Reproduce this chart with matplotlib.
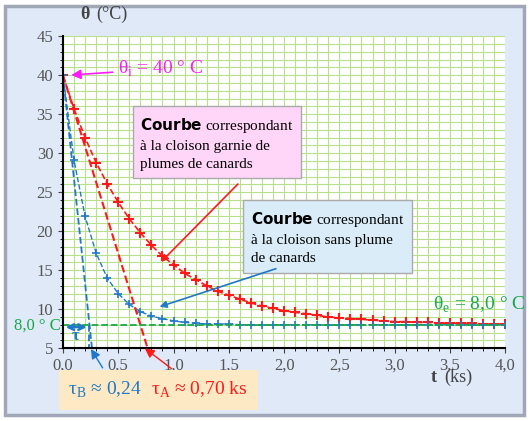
import numpy as np
import matplotlib.pyplot as plt
from matplotlib.patches import FancyBboxPatch

plt.rcParams['font.family'] = ['Liberation Serif', 'DejaVu Serif']

# temps (ks), pas de 0,1
t = [i / 10 for i in range(41)]
theta_A = [40, 35.7, 32.0, 28.8, 26.1, 23.7, 21.6, 19.8, 18.2, 16.8, 15.7, 14.6, 13.8,
           13.0, 12.3, 11.8, 11.3, 10.8, 10.4, 10.1, 9.8, 9.6, 9.4, 9.2, 9.0, 8.9, 8.8,
           8.7, 8.6, 8.5, 8.4, 8.4, 8.3, 8.3, 8.2, 8.2, 8.2, 8.2, 8.1, 8.1, 8.1]
theta_B = [40, 29.1, 21.9, 17.2, 14.0, 12.0, 10.6, 9.7, 9.1, 8.8, 8.5, 8.3, 8.2, 8.1,
           8.1, 8.1] + [8.0] * 25
theta_i, theta_e = 40, 8.0
tau_A, tau_B = 0.70, 0.24

RED, BLUE, GREEN, MAG = "#ff1a1a", "#1f78c8", "#1aa84a", "#ff1aff"

fig = plt.figure(figsize=(5.29, 4.21), dpi=100)
fig.patch.set_facecolor("white")
frame = FancyBboxPatch((0.01, 0.015), 0.98, 0.97, boxstyle="square,pad=0",
                       transform=fig.transFigure, facecolor="#dfe9f8",
                       edgecolor="#a0a8b8", lw=2.5, zorder=-10)
fig.patches.append(frame)
ax = fig.add_axes([0.119, 0.173, 0.836, 0.741])
ax.set_facecolor("white")
ax.set_xlim(0, 4.0); ax.set_ylim(5, 45)
ax.set_xticks(np.arange(0, 4.01, 0.5)); ax.set_yticks(np.arange(5, 46, 5))
ax.set_xticks(np.arange(0, 4.01, 0.1), minor=True); ax.set_yticks(np.arange(5, 46, 1), minor=True)
ax.set_xticklabels([f"{v:.1f}".replace(".", ",") for v in np.arange(0, 4.01, 0.5)])
ax.grid(True, which="both", color="#b8e08a", lw=0.8)
ax.tick_params(labelsize=12, colors="#444444", labelcolor="#555555")
for s in ("top", "right"):
    ax.spines[s].set_visible(False)
for s in ("left", "bottom"):
    ax.spines[s].set_linewidth(1.5)

ax.plot(t, theta_A, ls="--", color=RED, marker="+", ms=7, mew=1.5, lw=1.2)
ax.plot(t, theta_B, ls="--", color=BLUE, marker="+", ms=6, mew=1.2, lw=1.0)
# tangentes
ax.plot([0, tau_A * 35 / 32], [theta_i, 5], ls="--", color=RED, lw=1.5)
ax.plot([0, tau_B * 35 / 32], [theta_i, 5], ls="--", color=BLUE, lw=1.3)
ax.plot([tau_B, tau_B], [theta_e, 5], ls="--", color=BLUE, lw=1.3)
ax.axhline(theta_e, ls="--", color=GREEN, lw=1.3)
ax.annotate("", xy=(tau_B, 7.7), xytext=(0, 7.7),
            arrowprops=dict(arrowstyle="<->", color=BLUE, lw=1.8))
ax.text(0.08, 6.0, "τ", color=BLUE, fontsize=12, fontweight="bold")

ax.text(-0.02, 7.9, "8,0 ° C", color=GREEN, fontsize=12, ha="right", va="center",
        clip_on=False)
ax.text(0.16, 47.2, "θ", fontsize=13, fontweight="bold", color="#444444")
ax.text(0.3, 47.2, "(°C)", fontsize=13, color="#444444")
ax.text(3.33, 0.7, "t", fontsize=13, fontweight="bold", color="#444444")
ax.text(3.45, 0.7, "(ks)", fontsize=13, color="#444444")

ax.annotate("θ$_\\mathregular{i}$ = 40 ° C", xy=(0.05, theta_i), xytext=(0.5, 40.8),
            color=MAG, fontsize=14, va="center",
            arrowprops=dict(arrowstyle="-|>", color=MAG, lw=1.2))
ax.text(3.35, 10.5, "θ$_\\mathregular{e}$ = 8,0 ° C", color=GREEN, fontsize=14,
        va="center")

ax.text(0.7, 31.3, "$\\bf{Courbe}$ correspondant\nà la cloison garnie de\nplumes de canards",
        fontsize=11, va="center", ha="left", linespacing=1.5,
        bbox=dict(boxstyle="square,pad=0.5", fc="#ffd6f8", ec="#aaaaaa"))
ax.annotate("", xy=(0.87, 15.8), xytext=(1.6, 26.3),
            arrowprops=dict(arrowstyle="-|>", color=RED, lw=1.2))
ax.text(1.7, 19.2, "$\\bf{Courbe}$ correspondant\nà la cloison sans plume\nde canards",
        fontsize=11, va="center", ha="left", linespacing=1.5,
        bbox=dict(boxstyle="square,pad=0.5", fc="#d9ecf8", ec="#aaaaaa"))
ax.annotate("", xy=(0.85, 10.2), xytext=(1.95, 15.3),
            arrowprops=dict(arrowstyle="-|>", color=BLUE, lw=1.2))

ax.annotate("τ$_\\mathregular{B}$ ≈ 0,24 ks", xy=(0.24, 5.2), xytext=(0.05, -1.0),
            fontsize=14, color=BLUE, annotation_clip=False,
            bbox=dict(boxstyle="square,pad=0.5", fc="#fde9c4", ec="none"),
            arrowprops=dict(arrowstyle="-|>", color=BLUE, lw=1.0))
ax.annotate("τ$_\\mathregular{A}$ ≈ 0,70 ks", xy=(0.72, 5.2), xytext=(0.8, -1.0),
            fontsize=14, color=RED, annotation_clip=False,
            bbox=dict(boxstyle="square,pad=0.5", fc="#fde9c4", ec="none"),
            arrowprops=dict(arrowstyle="-|>", color=RED, lw=1.0))

fig.savefig("out.png", dpi=100, facecolor=fig.get_facecolor())
